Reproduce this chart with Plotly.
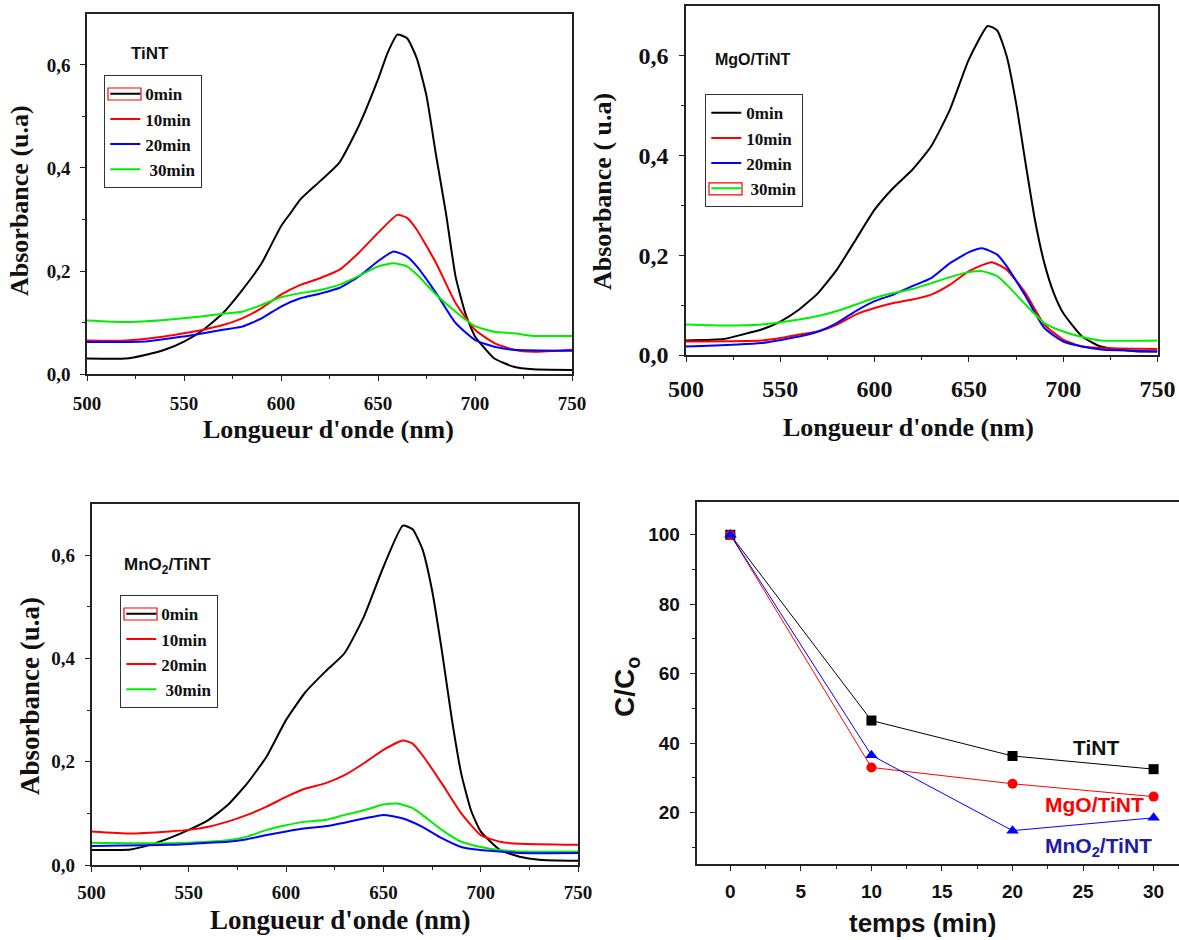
import plotly.graph_objects as go

W, H = 1179, 940

# ---------------- data ----------------
# Panel 1 : TiNT
t1_0_x = [500, 520, 530, 540, 550, 560, 570, 580, 590, 600, 605, 610, 620, 630, 640, 650, 655, 660, 665, 670, 675, 680, 685, 690, 695, 700, 705, 710, 720, 730, 750]
t1_0_y = [0.030, 0.030, 0.037, 0.047, 0.063, 0.086, 0.118, 0.163, 0.215, 0.287, 0.313, 0.339, 0.374, 0.410, 0.481, 0.572, 0.624, 0.659, 0.652, 0.613, 0.540, 0.423, 0.313, 0.189, 0.118, 0.073, 0.050, 0.030, 0.014, 0.009, 0.008]
t1_10_x = [500, 520, 540, 550, 560, 570, 580, 590, 600, 610, 620, 630, 640, 650, 660, 665, 670, 680, 690, 700, 710, 720, 730, 750]
t1_10_y = [0.065, 0.065, 0.073, 0.079, 0.086, 0.095, 0.108, 0.128, 0.154, 0.173, 0.186, 0.202, 0.235, 0.274, 0.309, 0.303, 0.280, 0.215, 0.138, 0.086, 0.060, 0.047, 0.043, 0.047]
t1_20_x = [500, 530, 550, 560, 570, 580, 590, 600, 610, 620, 630, 640, 650, 658, 665, 670, 680, 690, 700, 710, 720, 750]
t1_20_y = [0.062, 0.063, 0.073, 0.079, 0.086, 0.092, 0.108, 0.131, 0.147, 0.156, 0.167, 0.189, 0.219, 0.238, 0.228, 0.209, 0.157, 0.099, 0.066, 0.053, 0.047, 0.045]
t1_30_x = [500, 520, 540, 560, 570, 580, 590, 600, 610, 620, 630, 640, 650, 658, 665, 670, 680, 690, 700, 710, 720, 730, 750]
t1_30_y = [0.104, 0.101, 0.105, 0.112, 0.117, 0.121, 0.134, 0.149, 0.157, 0.163, 0.173, 0.190, 0.209, 0.215, 0.209, 0.193, 0.154, 0.121, 0.093, 0.082, 0.079, 0.074, 0.074]

# Panel 2 : MgO/TiNT
m_0_x = [500, 520, 530, 540, 550, 560, 570, 580, 590, 600, 610, 620, 630, 640, 650, 660, 665, 670, 675, 680, 685, 690, 695, 700, 710, 720, 730, 740, 750]
m_0_y = [0.029, 0.032, 0.041, 0.051, 0.067, 0.091, 0.124, 0.171, 0.231, 0.291, 0.335, 0.371, 0.418, 0.492, 0.592, 0.659, 0.650, 0.599, 0.505, 0.385, 0.271, 0.184, 0.124, 0.084, 0.037, 0.017, 0.011, 0.007, 0.007]
m_10_x = [500, 540, 550, 560, 570, 580, 590, 600, 610, 620, 630, 640, 650, 662, 670, 680, 690, 700, 710, 720, 750]
m_10_y = [0.027, 0.029, 0.034, 0.041, 0.047, 0.061, 0.081, 0.094, 0.104, 0.111, 0.121, 0.141, 0.168, 0.186, 0.171, 0.124, 0.061, 0.031, 0.017, 0.014, 0.012]
m_20_x = [500, 540, 560, 570, 580, 590, 600, 610, 620, 630, 640, 650, 657, 665, 670, 680, 690, 700, 710, 720, 750]
m_20_y = [0.017, 0.024, 0.037, 0.047, 0.064, 0.088, 0.108, 0.121, 0.138, 0.154, 0.184, 0.206, 0.214, 0.201, 0.178, 0.118, 0.054, 0.027, 0.017, 0.011, 0.007]
m_30_x = [500, 520, 540, 560, 570, 580, 590, 600, 610, 620, 630, 640, 650, 657, 665, 670, 680, 690, 700, 710, 720, 750]
m_30_y = [0.061, 0.059, 0.061, 0.071, 0.078, 0.088, 0.101, 0.114, 0.124, 0.132, 0.144, 0.156, 0.166, 0.168, 0.158, 0.141, 0.101, 0.064, 0.047, 0.036, 0.029, 0.029]

# Panel 3 : MnO2/TiNT
n_0_x = [500, 520, 530, 540, 550, 560, 570, 580, 590, 600, 610, 620, 630, 640, 650, 660, 665, 670, 675, 680, 685, 690, 695, 700, 710, 720, 730, 750]
n_0_y = [0.029, 0.030, 0.039, 0.052, 0.068, 0.087, 0.116, 0.158, 0.210, 0.281, 0.335, 0.374, 0.410, 0.481, 0.577, 0.657, 0.650, 0.612, 0.532, 0.416, 0.287, 0.177, 0.106, 0.065, 0.029, 0.016, 0.010, 0.008]
n_10_x = [500, 520, 540, 550, 560, 570, 580, 590, 600, 610, 620, 630, 640, 650, 660, 665, 670, 680, 690, 700, 710, 720, 750]
n_10_y = [0.065, 0.061, 0.065, 0.068, 0.074, 0.084, 0.097, 0.113, 0.132, 0.148, 0.158, 0.174, 0.197, 0.223, 0.241, 0.235, 0.213, 0.158, 0.100, 0.058, 0.045, 0.041, 0.039]
n_20_x = [500, 540, 560, 570, 580, 590, 600, 610, 620, 630, 640, 650, 660, 670, 680, 690, 700, 710, 720, 750]
n_20_y = [0.037, 0.039, 0.043, 0.045, 0.050, 0.058, 0.065, 0.071, 0.075, 0.082, 0.090, 0.097, 0.090, 0.074, 0.052, 0.035, 0.029, 0.026, 0.023, 0.023]
n_30_x = [500, 540, 560, 570, 580, 590, 600, 610, 620, 630, 640, 650, 657, 665, 670, 680, 690, 700, 710, 720, 750]
n_30_y = [0.043, 0.042, 0.045, 0.048, 0.055, 0.068, 0.077, 0.084, 0.087, 0.097, 0.106, 0.117, 0.119, 0.110, 0.097, 0.068, 0.045, 0.035, 0.029, 0.026, 0.026]

# Panel 4 : C/Co vs time
temps = [0, 10, 20, 30]
cc_tint = [100, 46.5, 36.3, 32.5]
cc_mgo = [100, 33.0, 28.3, 24.6]
cc_mno2 = [100, 36.5, 14.8, 18.5]

legend_labels = ["0min", "10min", "20min", "\u00a030min"]

# ---------------- helpers ----------------
def px(x):
    return x / W

def py(y):
    return 1 - y / H

BLACK, RED, BLUE, GREEN = "#000000", "#ff0000", "#0000ff", "#00ee00"
SERIF = "Liberation Serif, Times New Roman, serif"
SANS = "Liberation Sans, Arial, sans-serif"
NARROW = "Liberation Sans Narrow, Arial Narrow, Liberation Sans, sans-serif"

fig = go.Figure()

def spec(x, y, color, name, xa, ya, leg, showleg=True):
    fig.add_trace(go.Scatter(x=x, y=y, mode="lines", name=name,
                             line=dict(color=color, width=2, shape="spline", smoothing=0.5),
                             xaxis=xa, yaxis=ya, legend=leg, showlegend=showleg))

# panel 1
spec(t1_0_x, t1_0_y, BLACK, legend_labels[0], "x", "y", "legend")
spec(t1_10_x, t1_10_y, RED, legend_labels[1], "x", "y", "legend")
spec(t1_20_x, t1_20_y, BLUE, legend_labels[2], "x", "y", "legend")
spec(t1_30_x, t1_30_y, GREEN, legend_labels[3], "x", "y", "legend")
# panel 2
spec(m_0_x, m_0_y, BLACK, legend_labels[0], "x2", "y2", "legend2")
spec(m_10_x, m_10_y, RED, legend_labels[1], "x2", "y2", "legend2")
spec(m_20_x, m_20_y, BLUE, legend_labels[2], "x2", "y2", "legend2")
spec(m_30_x, m_30_y, GREEN, legend_labels[3], "x2", "y2", "legend2")
# panel 3 (legend shows red for 20min as in the original)
spec(n_0_x, n_0_y, BLACK, legend_labels[0], "x3", "y3", "legend3")
spec(n_10_x, n_10_y, RED, legend_labels[1], "x3", "y3", "legend3")
fig.add_trace(go.Scatter(x=[None], y=[None], mode="lines", name=legend_labels[2],
                         line=dict(color=RED, width=2), xaxis="x3", yaxis="y3", legend="legend3"))
spec(n_30_x, n_30_y, GREEN, legend_labels[3], "x3", "y3", "legend3")
spec(n_20_x, n_20_y, BLUE, legend_labels[2], "x3", "y3", "legend3", showleg=False)

# panel 4
fig.add_trace(go.Scatter(x=temps, y=cc_tint, mode="lines+markers", name="TiNT",
                         line=dict(color=BLACK, width=1), marker=dict(symbol="square", size=10, color=BLACK),
                         xaxis="x4", yaxis="y4", showlegend=False))
fig.add_trace(go.Scatter(x=temps, y=cc_mgo, mode="lines+markers", name="MgO/TiNT",
                         line=dict(color=RED, width=1), marker=dict(symbol="circle", size=10, color=RED),
                         xaxis="x4", yaxis="y4", showlegend=False))
fig.add_trace(go.Scatter(x=temps, y=cc_mno2, mode="lines+markers", name="MnO2/TiNT",
                         line=dict(color=BLUE, width=1), marker=dict(symbol="triangle-up", size=11, color=BLUE),
                         xaxis="x4", yaxis="y4", showlegend=False))

AXC = "#222222"

def axis(dom, anchor, rng, dtick, minor, fsize, family, standoff, fmt=None, mirror=True):
    d = dict(domain=dom, anchor=anchor, range=rng, dtick=dtick, tick0=0, automargin=False,
             showline=True, linecolor=AXC, linewidth=1.5, mirror=mirror,
             ticks="outside", ticklen=5, tickwidth=1.2, tickcolor=AXC,
             minor=dict(dtick=minor, ticks="outside", ticklen=3, tickwidth=1, tickcolor=AXC),
             showgrid=False, zeroline=False,
             tickfont=dict(family=family, size=fsize, color="#111", weight="bold"),
             ticklabelstandoff=standoff)
    if fmt:
        d["tickformat"] = fmt
    return d

layout = dict(
    width=W, height=H, margin=dict(l=0, r=0, t=0, b=0, autoexpand=False),
    paper_bgcolor="white", plot_bgcolor="white", separators=", ",
    xaxis=axis([px(87), px(572)], "y", [500, 750], 50, 25, 19, SERIF, 6),
    yaxis=axis([py(374), py(14)], "x", [0, 0.699], 0.2, 0.1, 19, SERIF, 6, ".1f"),
    xaxis2=axis([px(686), px(1157.5)], "y2", [500, 750], 50, 25, 24, SERIF, 6),
    yaxis2=axis([py(355), py(6)], "x2", [0, 0.699], 0.2, 0.1, 24, SERIF, 6, ".1f"),
    xaxis3=axis([px(91.5), px(578)], "y3", [500, 750], 50, 25, 19, SERIF, 4),
    yaxis3=axis([py(865), py(504)], "x3", [0, 0.699], 0.2, 0.1, 19, SERIF, 6, ".1f"),
    xaxis4=axis([px(696.5), 1.0], "y4", [-2.4, 31.8], 5, 2.5, 19, NARROW, 4),
    yaxis4=axis([py(864), py(501.7)], "x4", [5.2, 109.5], 20, 10, 19, NARROW, 6, mirror=False),
)

def leg(x, y):
    return dict(x=px(x), y=py(y), xanchor="left", yanchor="top", xref="paper", yref="paper",
                bgcolor="rgba(255,255,255,0)", bordercolor="#333", borderwidth=1.3,
                font=dict(family=SERIF, size=17, color="#111", weight="bold"),
                itemwidth=30, tracegroupgap=0)

LEG1 = (104, 75)
LEG2 = (705, 94)
LEG3 = (120, 595)
layout["legend"] = leg(*LEG1)
layout["legend2"] = leg(*LEG2)
layout["legend3"] = leg(*LEG3)

# red selection rectangles around some legend samples (as in the original)
def red_rect(lx, cy):
    return dict(type="rect", xref="paper", yref="paper",
                x0=px(lx + 4), x1=px(lx + 37), y0=py(cy - 6), y1=py(cy + 6),
                line=dict(color=RED, width=1.2), fillcolor="rgba(0,0,0,0)", layer="above")

layout["shapes"] = [
    red_rect(LEG1[0], LEG1[1] + 19),
    red_rect(LEG2[0], LEG2[1] + 19 + 3 * 25.3),
    red_rect(LEG3[0], LEG3[1] + 19),
]

fig.update_layout(**layout)

def ann(text, x, y, size, family, color="#111", angle=0, weight="bold"):
    fig.add_annotation(text=text, x=px(x), y=py(y), xref="paper", yref="paper",
                       xanchor="center", yanchor="middle", showarrow=False, textangle=angle,
                       font=dict(family=family, size=size, color=color, weight=weight))

# axis titles
ann("Absorbance (u.a)", 19, 201, 26, SERIF, angle=-90)
ann("Longueur d'onde (nm)", 328, 430, 26, SERIF)
ann("Absorbance ( u.a)", 603, 192, 26, SERIF, angle=-90)
ann("Longueur d'onde (nm)", 909, 427, 26, SERIF)
ann("Absorbance (u.a)", 30, 696, 27, SERIF, angle=-90)
ann("Longueur d'onde (nm)", 340, 920, 27, SERIF)
ann("C/C<sub>o</sub>", 626, 687, 28, SANS, angle=-90)
ann("temps (min)", 923, 923, 26, SANS)

# panel labels
ann("TiNT", 150, 53, 17, SANS)
ann("MgO/TiNT", 752, 60, 16, SANS)
ann("MnO<sub>2</sub>/TiNT", 167, 566, 17, SANS)
ann("TiNT", 1096, 747, 21, SANS, color="#111")
ann("MgO/TiNT", 1094, 804, 21, SANS, color=RED)
ann("MnO<sub>2</sub>/TiNT", 1098, 847, 21, SANS, color="#1c1ca8")

fig.write_html("out.html")
